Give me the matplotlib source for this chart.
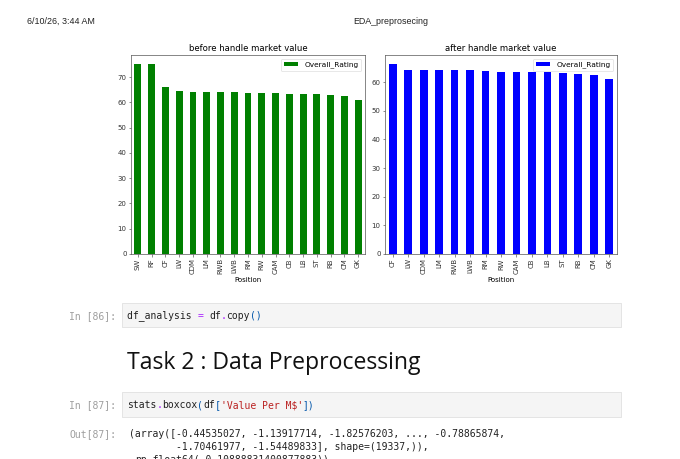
import matplotlib
matplotlib.use("Agg")
import matplotlib.pyplot as plt
from matplotlib.patches import Rectangle

W, H = 680, 459

# ---------------- data ----------------
before_positions = ["SW", "RF", "CF", "LW", "CDM", "LM", "RWB", "LWB", "RM",
                    "RW", "CAM", "CB", "LB", "ST", "RB", "CM", "GK"]
before_rating = [75.0, 75.0, 66.2, 64.4, 64.3, 64.2, 64.1, 64.1, 63.9,
                 63.7, 63.7, 63.5, 63.3, 63.2, 62.9, 62.5, 61.1]

after_positions = ["CF", "LW", "CDM", "LM", "RWB", "LWB", "RM", "RW", "CAM",
                   "CB", "LB", "ST", "RB", "CM", "GK"]
after_rating = [66.2, 64.4, 64.2, 64.2, 64.1, 64.1, 63.9, 63.7, 63.7,
                63.5, 63.4, 63.2, 62.8, 62.5, 61.1]

left_title = "before handle market value"
right_title = "after handle market value"
legend_label = "Overall_Rating"
x_label = "Position"

header_left = "6/10/26, 3:44 AM"
header_center = "EDA_preprosecing"
heading = "Task 2 : Data Preprocessing"


def fx(x):
    return x / W


def fy(y):
    return 1 - y / H


fig = plt.figure(figsize=(W / 100, H / 100), dpi=100)
fig.patch.set_facecolor("white")

TICK = 5.0


def bar_axes(rect_px, cats, vals, color, title):
    x0, y0, x1, y1 = rect_px
    ax = fig.add_axes([fx(x0), fy(y1), (x1 - x0) / W, (y1 - y0) / H])
    idx = list(range(len(cats)))
    ax.bar(idx, vals, width=0.5, color=color, label=legend_label)
    ax.set_xlim(-0.5, len(cats) - 0.5)
    ax.set_ylim(0, max(vals) * 1.05)
    ax.set_xticks(idx)
    ax.set_xticklabels(cats, rotation=90)
    ax.tick_params(labelsize=TICK, length=1.8, width=0.4, pad=1.3, colors="#333333")
    for s in ax.spines.values():
        s.set_linewidth(0.5)
        s.set_color("#555555")
    ax.set_title(title, fontsize=6.1, pad=3)
    ax.set_xlabel(x_label, fontsize=TICK, labelpad=1.5)
    leg = ax.legend(loc="upper right", fontsize=5.3, handlelength=2.0,
                    borderpad=0.4, handleheight=0.6, framealpha=0.8)
    leg.get_frame().set_linewidth(0.4)
    return ax


bar_axes((131, 55, 365, 254), before_positions, before_rating, "green", left_title)
bar_axes((385, 55, 617, 254), after_positions, after_rating, "blue", right_title)

# ---------------- page header ----------------
fig.text(fx(27), fy(21), header_left, family="Liberation Sans", fontsize=6.4,
         va="center", ha="left", color="#222222")
fig.text(fx(353), fy(21), header_center, family="Liberation Sans", fontsize=6.4,
         va="center", ha="left", color="#222222")

# ---------------- notebook cells ----------------
MONO = "DejaVu Sans Mono"
CODE_SIZE = 7.0
CW = CODE_SIZE * 100 / 72 * 0.602
DARK = "#212121"
OP = "#AA22FF"
BR = "#0055AA"
STR = "#BA2121"
PROMPT = "#9e9e9e"


def cell_box(y0, y1):
    fig.patches.append(Rectangle((fx(122), fy(y1)), (621 - 122) / W, (y1 - y0) / H,
                                 transform=fig.transFigure, facecolor="#f5f5f5",
                                 edgecolor="#e0e0e0", linewidth=0.6))


def code_line(x0, y, segments):
    col = 0
    for text, color in segments:
        stripped = text.lstrip(" ")
        lead = len(text) - len(stripped)
        if stripped:
            fig.text(fx(x0 + (col + lead) * CW), fy(y), stripped, color=color,
                     family=MONO, fontsize=CODE_SIZE, va="center", ha="left")
        col += len(text)


def prompt(y, text):
    fig.text(fx(116), fy(y), text, color=PROMPT, family=MONO, fontsize=CODE_SIZE,
             va="center", ha="right")


# In [86]
cell_box(303, 327)
prompt(316, "In [86]:")
code_line(127, 316, [("df_analysis ", DARK), ("=", OP), (" df", DARK), (".", OP),
                     ("copy", DARK), ("()", BR)])

# heading
fig.text(fx(127), fy(369), heading, family="Open Sans", fontsize=16.6,
         va="baseline", ha="left", color="#111111")

# In [87]
cell_box(392, 417)
prompt(405, "In [87]:")
code_line(127, 405, [("stats", DARK), (".", OP), ("boxcox", DARK), ("(", BR),
                     ("df", DARK), ("[", BR), ("'Value Per M$'", STR), ("])", BR)])

# Out [87]
prompt(434, "Out[87]:")
out_lines = ["(array([-0.44535027, -1.13917714, -1.82576203, ..., -0.78865874,",
             "        -1.70461977, -1.54489833], shape=(19337,)),",
             " np.float64(-0.10888831400877883))"]
for i, line in enumerate(out_lines):
    code_line(129, 434 + i * 12.8, [(line, DARK)])

fig.savefig("out.png", dpi=100, facecolor="white")
